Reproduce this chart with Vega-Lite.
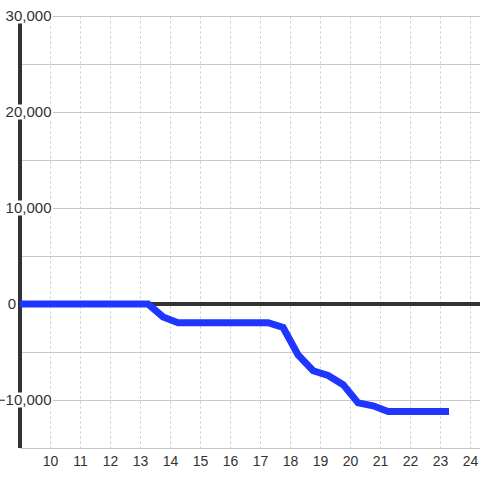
{
  "$schema": "https://vega.github.io/schema/vega-lite/v6.json",
  "width": 460,
  "height": 432,
  "autosize": "none",
  "padding": {"left": 20, "top": 16, "right": 0, "bottom": 32},
  "background": "white",
  "config": {"view": {"stroke": null}, "font": "Liberation Sans"},
  "datasets": {
    "series": [
      {"x": 9.0, "y": 0},
      {"x": 13.27, "y": 0},
      {"x": 13.77, "y": -1350},
      {"x": 14.27, "y": -1950},
      {"x": 17.27, "y": -1950},
      {"x": 17.77, "y": -2450},
      {"x": 18.27, "y": -5300},
      {"x": 18.77, "y": -6950},
      {"x": 19.27, "y": -7450},
      {"x": 19.77, "y": -8400},
      {"x": 20.27, "y": -10300},
      {"x": 20.77, "y": -10600},
      {"x": 21.27, "y": -11200},
      {"x": 23.3, "y": -11200}
    ],
    "labels": [
      {"v": -10000}, {"v": 0}, {"v": 10000}, {"v": 20000}, {"v": 30000}
    ]
  },
  "layer": [
    {
      "data": {"name": "series"},
      "mark": {"type": "rule", "color": "#333333", "strokeWidth": 3},
      "encoding": {
        "x": {"datum": 9, "type": "quantitative", "scale": {"domain": [9, 24.3333], "nice": false, "zero": false},
          "axis": {"values": [10,11,12,13,14,15,16,17,18,19,20,21,22,23,24], "format": "d", "title": null, "domain": false, "ticks": false, "labelPadding": 6, "labelFontSize": 14, "labelColor": "#333333", "labelFont": "Liberation Sans", "labelOverlap": false, "labelFlush": false, "grid": true, "gridColor": "#c8c8c8", "gridDash": [2, 3], "gridWidth": 1, "zindex": 0}},
        "y": {"datum": -15000, "type": "quantitative", "scale": {"domain": [-15000, 30000], "nice": false, "zero": false},
          "axis": {"values": [-15000,-10000,-5000,0,5000,10000,15000,20000,25000,30000], "title": null, "domain": false, "ticks": false, "labels": false, "grid": true, "gridColor": "#c8c8c8", "gridWidth": 1, "zindex": 0}},
        "y2": {"datum": 30000}
      }
    },
    {
      "data": {"name": "labels"},
      "transform": [{"filter": "datum.v !== 0"}],
      "mark": {"type": "tick", "color": "white", "orient": "horizontal", "size": 47, "thickness": 15, "opacity": 1},
      "encoding": {
        "x": {"datum": 9.317, "type": "quantitative",
          "axis": {"values": [10,11,12,13,14,15,16,17,18,19,20,21,22,23,24], "format": "d", "title": null, "domain": false, "ticks": false, "labelPadding": 6, "labelFontSize": 14, "labelColor": "#333333", "labelFont": "Liberation Sans", "labelOverlap": false, "labelFlush": false, "grid": true, "gridColor": "#c8c8c8", "gridDash": [2, 3], "gridWidth": 1, "zindex": 0}},
        "y": {"field": "v", "type": "quantitative",
          "axis": {"values": [-15000,-10000,-5000,0,5000,10000,15000,20000,25000,30000], "title": null, "domain": false, "ticks": false, "labels": false, "grid": true, "gridColor": "#c8c8c8", "gridWidth": 1, "zindex": 0}}
      }
    },
    {
      "data": {"name": "labels"},
      "transform": [{"filter": "datum.v !== 0"}],
      "mark": {"type": "text", "align": "right", "baseline": "middle", "fontSize": 15, "color": "#333333", "font": "Liberation Sans"},
      "encoding": {
        "x": {"datum": 10.05, "type": "quantitative",
          "axis": {"values": [10,11,12,13,14,15,16,17,18,19,20,21,22,23,24], "format": "d", "title": null, "domain": false, "ticks": false, "labelPadding": 6, "labelFontSize": 14, "labelColor": "#333333", "labelFont": "Liberation Sans", "labelOverlap": false, "labelFlush": false, "grid": true, "gridColor": "#c8c8c8", "gridDash": [2, 3], "gridWidth": 1, "zindex": 0}},
        "y": {"field": "v", "type": "quantitative",
          "axis": {"values": [-15000,-10000,-5000,0,5000,10000,15000,20000,25000,30000], "title": null, "domain": false, "ticks": false, "labels": false, "grid": true, "gridColor": "#c8c8c8", "gridWidth": 1, "zindex": 0}},
        "text": {"field": "v", "type": "quantitative", "format": ","}
      }
    },
    {
      "data": {"name": "labels"},
      "transform": [{"filter": "datum.v === 0"}],
      "mark": {"type": "text", "align": "right", "baseline": "middle", "fontSize": 15, "color": "#333333", "font": "Liberation Sans"},
      "encoding": {
        "x": {"datum": 8.87, "type": "quantitative",
          "axis": {"values": [10,11,12,13,14,15,16,17,18,19,20,21,22,23,24], "format": "d", "title": null, "domain": false, "ticks": false, "labelPadding": 6, "labelFontSize": 14, "labelColor": "#333333", "labelFont": "Liberation Sans", "labelOverlap": false, "labelFlush": false, "grid": true, "gridColor": "#c8c8c8", "gridDash": [2, 3], "gridWidth": 1, "zindex": 0}},
        "y": {"field": "v", "type": "quantitative",
          "axis": {"values": [-15000,-10000,-5000,0,5000,10000,15000,20000,25000,30000], "title": null, "domain": false, "ticks": false, "labels": false, "grid": true, "gridColor": "#c8c8c8", "gridWidth": 1, "zindex": 0}},
        "text": {"field": "v", "type": "quantitative", "format": ","}
      }
    },
    {
      "data": {"name": "series"},
      "mark": {"type": "rule", "color": "#333333", "strokeWidth": 3},
      "encoding": {
        "y": {"datum": 0, "type": "quantitative",
          "axis": {"values": [-15000,-10000,-5000,0,5000,10000,15000,20000,25000,30000], "title": null, "domain": false, "ticks": false, "labels": false, "grid": true, "gridColor": "#c8c8c8", "gridWidth": 1, "zindex": 0}}
      }
    },
    {
      "data": {"name": "series"},
      "mark": {"type": "line", "color": "#1f36ff", "strokeWidth": 7, "strokeCap": "butt", "strokeJoin": "miter"},
      "encoding": {
        "x": {"field": "x", "type": "quantitative",
          "axis": {"values": [10,11,12,13,14,15,16,17,18,19,20,21,22,23,24], "format": "d", "title": null, "domain": false, "ticks": false, "labelPadding": 6, "labelFontSize": 14, "labelColor": "#333333", "labelFont": "Liberation Sans", "labelOverlap": false, "labelFlush": false, "grid": true, "gridColor": "#c8c8c8", "gridDash": [2, 3], "gridWidth": 1, "zindex": 0}},
        "y": {"field": "y", "type": "quantitative",
          "axis": {"values": [-15000,-10000,-5000,0,5000,10000,15000,20000,25000,30000], "title": null, "domain": false, "ticks": false, "labels": false, "grid": true, "gridColor": "#c8c8c8", "gridWidth": 1, "zindex": 0}}
      }
    }
  ]
}
